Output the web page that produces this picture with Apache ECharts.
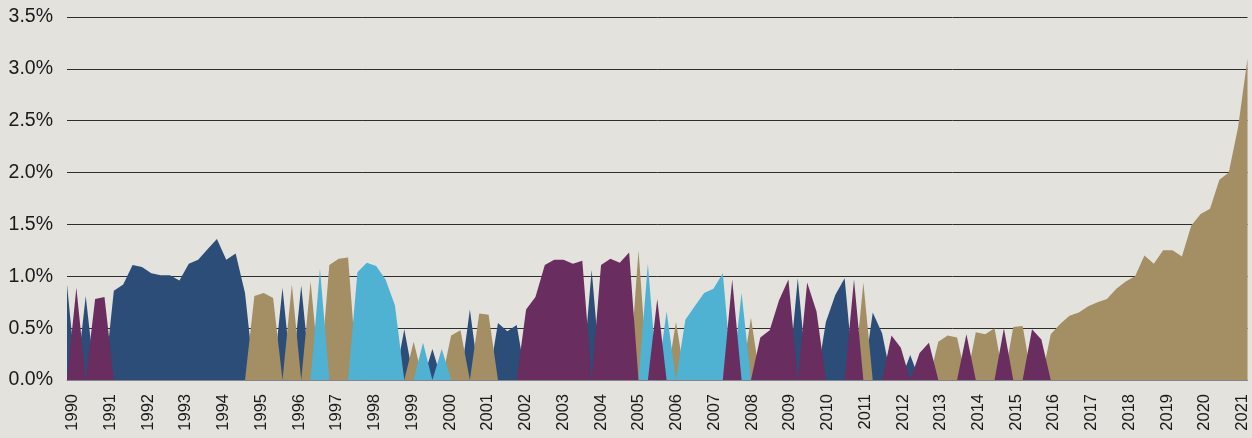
<!DOCTYPE html>
<html>
<head>
<meta charset="utf-8">
<script src="https://cdn.jsdelivr.net/npm/echarts@6/dist/echarts.min.js"></script>
<style>
  html, body { margin: 0; padding: 0; background: #e3e2dc; }
  #main { width: 1252px; height: 438px; }
</style>
</head>
<body>
<div id="main"></div>
<script>
// quarterly points, 1990 Q1 onwards
var rates = [
  0.92, 0.89, 0.81, 0.78, 0.80, 0.86, 0.92, 1.11, 1.09, 1.03,
  1.01, 1.01, 0.96, 1.12, 1.16, 1.26, 1.36, 1.16, 1.22, 0.84,
  0.81, 0.84, 0.79, 0.89, 0.92, 0.91, 0.95, 1.07, 1.11, 1.17,
  1.18, 1.04, 1.13, 1.10, 0.97, 0.72, 0.49, 0.37, 0.36, 0.30,
  0.30, 0.43, 0.48, 0.68, 0.64, 0.63, 0.55, 0.47, 0.53, 0.68,
  0.80, 1.11, 1.16, 1.16, 1.12, 1.15, 1.06, 1.11, 1.17, 1.13,
  1.23, 1.25, 1.12, 0.78, 0.66, 0.56, 0.58, 0.71, 0.84, 0.88,
  1.03, 0.97, 0.84, 0.60, 0.41, 0.48, 0.77, 0.97, 0.98, 0.94,
  0.66, 0.56, 0.82, 0.98, 0.97, 0.94, 0.65, 0.45, 0.43, 0.31,
  0.24, 0.26, 0.36, 0.37, 0.43, 0.41, 0.44, 0.46, 0.44, 0.50,
  0.50, 0.51, 0.52, 0.49, 0.39, 0.44, 0.54, 0.62, 0.65, 0.71,
  0.75, 0.78, 0.88, 0.95, 1.00, 1.20, 1.12, 1.25, 1.25, 1.19,
  1.49, 1.60, 1.65, 1.93, 2.00, 2.44, 3.10
];
// which colour group each quarter belongs to
var groups = [
  'N','P','N','P','P','N','N','N','N','N',
  'N','N','N','N','N','N','N','N','N','N',
  'T','T','T','N','T','N','T','B','T','T',
  'T','B','B','B','B','B','N','T','B','N',
  'B','T','T','N','T','T','N','N','N','P',
  'P','P','P','P','P','P','N','P','P','P',
  'P','T','B','P','B','T','B','B','B','B',
  'B','P','B','T','P','P','P','P','N','P',
  'P','N','N','N','P','T','N','N','P','P',
  'N','P','P','T','T','T','P','T','T','T',
  'P','T','T','P','P','T','T','T','T','T',
  'T','T','T','T','T','T','T','T','T','T',
  'T','T','T','T','T','T','T'
];
var years = [1990,1991,1992,1993,1994,1995,1996,1997,1998,1999,2000,
  2001,2002,2003,2004,2005,2006,2007,2008,2009,2010,2011,2012,2013,
  2014,2015,2016,2017,2018,2019,2020,2021];
var groupKeys = ['N', 'T', 'B', 'P'];
var groupColors = { N: '#2b4d77', T: '#a48e63', B: '#4fb2d3', P: '#6a2d5f' };

var quarters = [];
for (var i = 0; i < rates.length; i++) {
    quarters.push((1990 + Math.floor(i / 4)) + ' Q' + (i % 4 + 1));
}

var series = groupKeys.map(function (g) {
    return {
        type: 'line',
        name: g,
        symbol: 'none',
        silent: true,
        lineStyle: { width: 0 },
        areaStyle: { color: groupColors[g], opacity: 1 },
        data: rates.map(function (v, k) { return groups[k] === g ? v : 0; })
    };
});

var chart = echarts.init(document.getElementById('main'));
chart.setOption({
    backgroundColor: '#e3e2dc',
    animation: false,
    grid: { left: 67, right: 4.5, top: 17, bottom: 58 },
    xAxis: [{
        type: 'category',
        data: quarters,
        boundaryGap: false,
        axisLine: { lineStyle: { color: '#80858f', width: 1 } },
        axisTick: { show: false },
        axisLabel: { show: false }
    }, {
        type: 'value',
        position: 'bottom',
        min: 1989.849,
        max: 2021.129,
        axisLine: { show: false },
        axisTick: { show: false },
        splitLine: { show: false },
        axisLabel: {
            customValues: years,
            rotate: 90,
            margin: 14,
            fontSize: 16.5,
            color: '#1a1a1a',
            fontFamily: 'Liberation Sans, Arial, sans-serif',
            formatter: function (v) { return String(Math.round(v)); }
        }
    }],
    yAxis: {
        type: 'value',
        min: 0,
        max: 3.5,
        interval: 0.5,
        axisLine: { show: false },
        axisTick: { show: false },
        splitLine: { lineStyle: { color: '#2e2e2e', width: 1 } },
        axisLabel: {
            margin: 14,
            fontSize: 19.5,
            color: '#1a1a1a',
            fontFamily: 'Liberation Sans, Arial, sans-serif',
            formatter: function (v) { return v.toFixed(1) + '%'; }
        }
    },
    series: series
});
</script>
</body>
</html>
